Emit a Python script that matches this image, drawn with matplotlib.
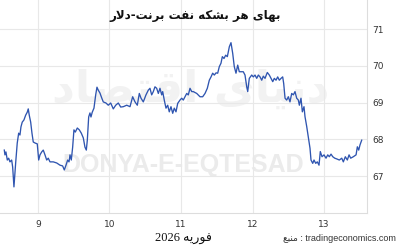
import matplotlib
matplotlib.use("Agg")
import matplotlib.pyplot as plt

# ---------------- data ----------------
day_of_month = [
    8.529, 8.538, 8.552, 8.571, 8.590, 8.608, 8.632, 8.646, 8.664, 8.688,
    8.710, 8.730, 8.748, 8.762, 8.780, 8.804, 8.828, 8.850, 8.864, 8.878,
    8.898, 8.916, 8.934, 8.962, 8.990, 9.010, 9.028, 9.052, 9.074, 9.098,
    9.122, 9.144, 9.168, 9.214, 9.262, 9.308, 9.345, 9.368, 9.392, 9.415,
    9.434, 9.448, 9.466, 9.485, 9.503, 9.522, 9.550, 9.578, 9.606, 9.634,
    9.657, 9.676, 9.690, 9.709, 9.727, 9.741, 9.759, 9.783, 9.807, 9.825,
    9.843, 9.867, 9.891, 9.913, 9.951, 9.983, 10.017, 10.053, 10.087, 10.123,
    10.157, 10.193, 10.241, 10.287, 10.324, 10.357, 10.389, 10.417, 10.441, 10.473,
    10.510, 10.543, 10.566, 10.590, 10.613, 10.636, 10.660, 10.683, 10.706, 10.730,
    10.744, 10.766, 10.790, 10.814, 10.836, 10.860, 10.884, 10.906, 10.930, 10.954,
    10.986, 11.010, 11.032, 11.056, 11.080, 11.102, 11.126, 11.150, 11.172, 11.220,
    11.266, 11.303, 11.336, 11.368, 11.396, 11.420, 11.443, 11.466, 11.490, 11.513,
    11.536, 11.559, 11.578, 11.601, 11.625, 11.648, 11.676, 11.699, 11.723, 11.745,
    11.769, 11.793, 11.815, 11.839, 11.871, 11.895, 11.919, 11.933, 11.955, 11.989,
    12.011, 12.035, 12.059, 12.081, 12.105, 12.129, 12.151, 12.175, 12.207, 12.235,
    12.259, 12.283, 12.305, 12.329, 12.352, 12.375, 12.399, 12.422, 12.436, 12.455,
    12.478, 12.501, 12.524, 12.548, 12.571, 12.594, 12.618, 12.641, 12.655, 12.678,
    12.697, 12.720, 12.734, 12.758, 12.780, 12.804, 12.818, 12.842, 12.860, 12.884,
    12.906, 12.930, 12.948, 12.972, 13.000, 13.028, 13.052, 13.074, 13.098, 13.122,
    13.150, 13.178, 13.214, 13.248, 13.270, 13.298, 13.326, 13.350, 13.373, 13.410,
    13.448, 13.466, 13.485, 13.503, 13.527,
]
brent_price = [
    67.71, 67.58, 67.66, 67.44, 67.49, 67.39, 67.44, 67.25, 66.71, 67.36,
    67.90, 68.17, 68.12, 68.34, 68.47, 68.53, 68.66, 68.74, 68.83, 68.66,
    68.47, 68.17, 67.93, 67.90, 67.88, 67.44, 67.58, 67.66, 67.71, 67.58,
    67.44, 67.49, 67.39, 67.39, 67.36, 67.30, 67.28, 67.17, 67.30, 67.44,
    67.39, 67.58, 67.44, 67.79, 68.26, 68.20, 68.31, 68.26, 68.17, 68.04,
    67.79, 67.71, 67.98, 68.61, 68.72, 68.61, 68.74, 68.85, 69.21, 69.42,
    69.34, 69.26, 69.13, 69.02, 68.99, 68.93, 68.99, 68.83, 68.93, 68.99,
    68.88, 68.89, 68.93, 68.89, 69.16, 69.02, 68.93, 69.25, 69.12, 69.02,
    69.21, 69.34, 69.39, 69.21, 69.30, 69.43, 69.39, 69.25, 69.39, 69.21,
    69.30, 69.07, 68.85, 68.93, 68.75, 68.89, 68.71, 68.85, 68.75, 68.98,
    69.07, 69.12, 69.07, 69.16, 69.25, 69.21, 69.39, 69.30, 69.30, 69.25,
    69.16, 69.16, 69.25, 69.39, 69.61, 69.70, 69.80, 69.75, 69.81, 69.80,
    69.98, 70.07, 70.25, 70.20, 70.29, 70.25, 70.52, 70.63, 70.34, 69.98,
    69.80, 70.02, 69.84, 69.84, 69.84, 69.75, 69.43, 69.30, 69.66, 69.75,
    69.70, 69.75, 69.66, 69.75, 69.70, 69.61, 69.72, 69.66, 69.82, 69.75,
    69.66, 69.57, 69.66, 69.61, 69.70, 69.61, 69.66, 69.70, 69.52, 69.12,
    69.07, 69.16, 69.02, 69.25, 69.21, 69.30, 69.12, 69.07, 68.93, 69.12,
    68.75, 68.89, 68.62, 68.35, 68.07, 67.76, 67.44, 67.35, 67.44, 67.35,
    67.39, 67.30, 67.67, 67.53, 67.58, 67.49, 67.58, 67.53, 67.60, 67.53,
    67.49, 67.47, 67.44, 67.49, 67.39, 67.53, 67.44, 67.58, 67.49, 67.53,
    67.58, 67.80, 67.71, 67.85, 67.98,
]
x_ticks = [9, 10, 11, 12, 13]
x_tick_labels = ["9", "10", "11", "12", "13"]
y_ticks = [67, 68, 69, 70, 71]
y_tick_labels = ["67", "68", "69", "70", "71"]

title_text = "بهای هر بشکه نفت برنت-دلار"
month_text = "فوریه"
year_text = "2026"
source_word = "منبع"
source_site = "tradingeconomics.com"
watermark_fa = "دنیای اقتصاد"
watermark_en = "DONYA-E-EQTESAD"

# ---------------- minimal Persian shaping (matplotlib has no bidi) ----------------
FORMS = {
    '\u0627': ('\uFE8D', '\uFE8E', None, None),
    '\u0628': ('\uFE8F', '\uFE90', '\uFE91', '\uFE92'),
    '\u062A': ('\uFE95', '\uFE96', '\uFE97', '\uFE98'),
    '\u062F': ('\uFEA9', '\uFEAA', None, None),
    '\u0631': ('\uFEAD', '\uFEAE', None, None),
    '\u0634': ('\uFEB5', '\uFEB6', '\uFEB7', '\uFEB8'),
    '\u0635': ('\uFEB9', '\uFEBA', '\uFEBB', '\uFEBC'),
    '\u0639': ('\uFEC9', '\uFECA', '\uFECB', '\uFECC'),
    '\u0641': ('\uFED1', '\uFED2', '\uFED3', '\uFED4'),
    '\u0642': ('\uFED5', '\uFED6', '\uFED7', '\uFED8'),
    '\u0644': ('\uFEDD', '\uFEDE', '\uFEDF', '\uFEE0'),
    '\u0645': ('\uFEE1', '\uFEE2', '\uFEE3', '\uFEE4'),
    '\u0646': ('\uFEE5', '\uFEE6', '\uFEE7', '\uFEE8'),
    '\u0647': ('\uFEE9', '\uFEEA', '\uFEEB', '\uFEEC'),
    '\u0648': ('\uFEED', '\uFEEE', None, None),
    '\u06CC': ('\uFBFC', '\uFBFD', '\uFBFE', '\uFBFF'),
    '\u06A9': ('\uFB8E', '\uFB8F', '\uFB90', '\uFB91'),
}


def _dual(c):
    return c in FORMS and FORMS[c][2] is not None


def shape(s):
    out = []
    i, n = 0, len(s)
    while i < n:
        c = s[i]
        if c not in FORMS:
            out.append(c)
            i += 1
            continue
        join_prev = i > 0 and _dual(s[i - 1])
        if c == '\u0644' and i + 1 < n and s[i + 1] == '\u0627':
            out.append('\uFEFC' if join_prev else '\uFEFB')
            i += 2
            continue
        join_next = _dual(c) and i + 1 < n and s[i + 1] in FORMS
        iso, fin, ini, med = FORMS[c]
        if join_prev and join_next:
            out.append(med)
        elif join_prev:
            out.append(fin)
        elif join_next:
            out.append(ini)
        else:
            out.append(iso)
        i += 1
    return ''.join(out)


def fa(s):
    return shape(s)[::-1]


# ---------------- figure ----------------
W, H = 400, 245
fig = plt.figure(figsize=(4.0, 2.45), dpi=100)
fig.patch.set_facecolor("white")

ax = fig.add_axes([0.0, 1 - 213 / H, 367 / W, 213 / H])
ax.set_facecolor("white")

ax.set_xlim(8.469, 13.601)
ax.set_ylim(66.0, 71.79)

grid_c = "#e8e8e8"
ax.set_xticks(x_ticks)
ax.set_xticklabels(x_tick_labels)
ax.set_yticks(y_ticks)
ax.set_yticklabels(y_tick_labels)
ax.yaxis.tick_right()
ax.tick_params(axis="both", length=0, labelsize=6.5, colors="#333333")
ax.tick_params(axis="x", pad=5)
ax.tick_params(axis="y", pad=4)
ax.grid(True, color=grid_c, linewidth=0.8)
ax.set_axisbelow(True)
for side in ["top", "left"]:
    ax.spines[side].set_visible(False)
ax.spines["right"].set_color("#dddddd")
ax.spines["bottom"].set_color("#dddddd")
ax.spines["right"].set_linewidth(0.8)
ax.spines["bottom"].set_linewidth(0.8)

# watermark
ax.text(0.52, 0.58, fa(watermark_fa), transform=ax.transAxes, fontsize=32,
        color="#f2f2f2", ha="center", va="center", fontweight="bold",
        family=["DejaVu Sans"], zorder=0)
ax.text(0.5, 0.225, watermark_en, transform=ax.transAxes, fontsize=18,
        color="#ebebeb", ha="center", va="center", fontweight="bold",
        family=["Liberation Sans", "DejaVu Sans"], zorder=0)

ax.plot(day_of_month, brent_price, color="#2f55b0", linewidth=0.95, zorder=3)

# title
fig.text(195 / W, 1 - 15 / H, fa(title_text), fontsize=8.6, fontweight="bold",
         ha="center", va="center", color="#111111", family=["DejaVu Sans"])

# month label
fig.text(183 / W, 1 - 238 / H, year_text + " " + fa(month_text), fontsize=9,
         ha="center", va="center", color="#111111",
         family=["Liberation Serif", "DejaVu Sans"])

# source
fig.text(396 / W, 1 - 238 / H, fa(source_word) + " : " + source_site, fontsize=6.5,
         ha="right", va="center", color="#333333",
         family=["Liberation Sans", "DejaVu Sans"])

fig.savefig("out.png", dpi=100, facecolor="white")
